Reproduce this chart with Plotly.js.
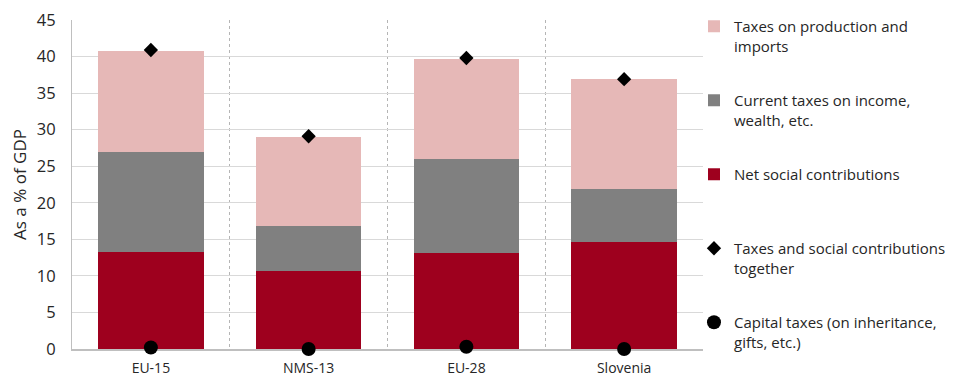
<!DOCTYPE html>
<html>
<head>
<meta charset="utf-8">
<script src="https://cdn.plot.ly/plotly-3.0.1.min.js"></script>
<style>
  html, body { margin: 0; padding: 0; background: #fff; }
  #chart { width: 960px; height: 385px; }
</style>
</head>
<body>
<div id="chart"></div>
<script>
const categories = ['EU-15', 'NMS-13', 'EU-28', 'Slovenia'];
const netSocialContributions = [13.2, 10.7, 13.1, 14.6];
const currentTaxesIncome = [13.8, 6.1, 12.9, 7.3];
const taxesProductionImports = [13.8, 12.2, 13.7, 15.0];
const taxesTogether = [40.9, 29.1, 39.8, 36.9];
const capitalTaxes = [0.2, 0.0, 0.3, 0.0];
const yTicks = [0, 5, 10, 15, 20, 25, 30, 35, 40, 45];

const FONT = 'Open Sans, Noto Sans, sans-serif';

const traces = [
  {
    type: 'bar', x: categories, y: netSocialContributions,
    name: 'Net social contributions<br>&nbsp;',
    marker: { color: '#9E001E', line: { width: 0 } },
    legendrank: 3, legendgroup: 'c'
  },
  {
    type: 'bar', x: categories, y: currentTaxesIncome,
    name: 'Current taxes on income,<br>wealth, etc.',
    marker: { color: '#808080', line: { width: 0 } },
    legendrank: 2, legendgroup: 'b'
  },
  {
    type: 'bar', x: categories, y: taxesProductionImports,
    name: 'Taxes on production and<br>imports',
    marker: { color: '#E6B8B7', line: { width: 0 } },
    legendrank: 1, legendgroup: 'a'
  },
  {
    type: 'scatter', mode: 'markers', x: categories, y: taxesTogether,
    name: 'Taxes and social contributions<br>together',
    marker: { symbol: 'diamond', size: 11, color: '#000' },
    cliponaxis: false, legendrank: 4, legendgroup: 'd'
  },
  {
    type: 'scatter', mode: 'markers', x: categories, y: capitalTaxes,
    name: 'Capital taxes (on inheritance,<br>gifts, etc.)',
    marker: { symbol: 'circle', size: 14, color: '#000' },
    cliponaxis: false, legendrank: 5, legendgroup: 'e'
  }
];

const layout = {
  width: 960, height: 385,
  margin: { l: 72, r: 257, t: 20, b: 36, autoexpand: false },
  paper_bgcolor: '#fff', plot_bgcolor: '#fff',
  barmode: 'stack', bargap: 0.33,
  font: { family: FONT, size: 15, color: '#262626' },
  showlegend: true,
  legend: {
    xref: 'container', yref: 'container',
    x: 0.7229, xanchor: 'left', y: 0.974, yanchor: 'top',
    traceorder: 'grouped', tracegroupgap: 32,
    valign: 'top', itemwidth: 30, maxheight: 385,
    font: { family: FONT, size: 15, color: '#262626' },
    bgcolor: 'rgba(0,0,0,0)'
  },
  xaxis: {
    type: 'category',
    tickson: 'boundaries',
    showgrid: true, gridcolor: '#b5b5b5', griddash: 'dot', gridwidth: 1,
    showline: true, linecolor: '#bfbfbf', linewidth: 2,
    ticks: '', zeroline: false, layer: 'below traces',
    ticklabelstandoff: 5,
    tickfont: { family: FONT, size: 14, color: '#262626' }
  },
  yaxis: {
    range: [0, 45], tickvals: yTicks, ticktext: yTicks.map(String),
    showgrid: true, gridcolor: '#d9d9d9', gridwidth: 1,
    showline: true, linecolor: '#bfbfbf', linewidth: 1,
    zeroline: false, ticks: '', layer: 'below traces',
    ticklabelstandoff: 12,
    tickfont: { family: FONT, size: 16.5, color: '#262626' },
    title: { text: 'As a % of GDP', font: { family: FONT, size: 17, color: '#262626' }, standoff: 5 }
  }
};

Plotly.newPlot('chart', traces, layout, { displayModeBar: false, staticPlot: true });
</script>
</body>
</html>
